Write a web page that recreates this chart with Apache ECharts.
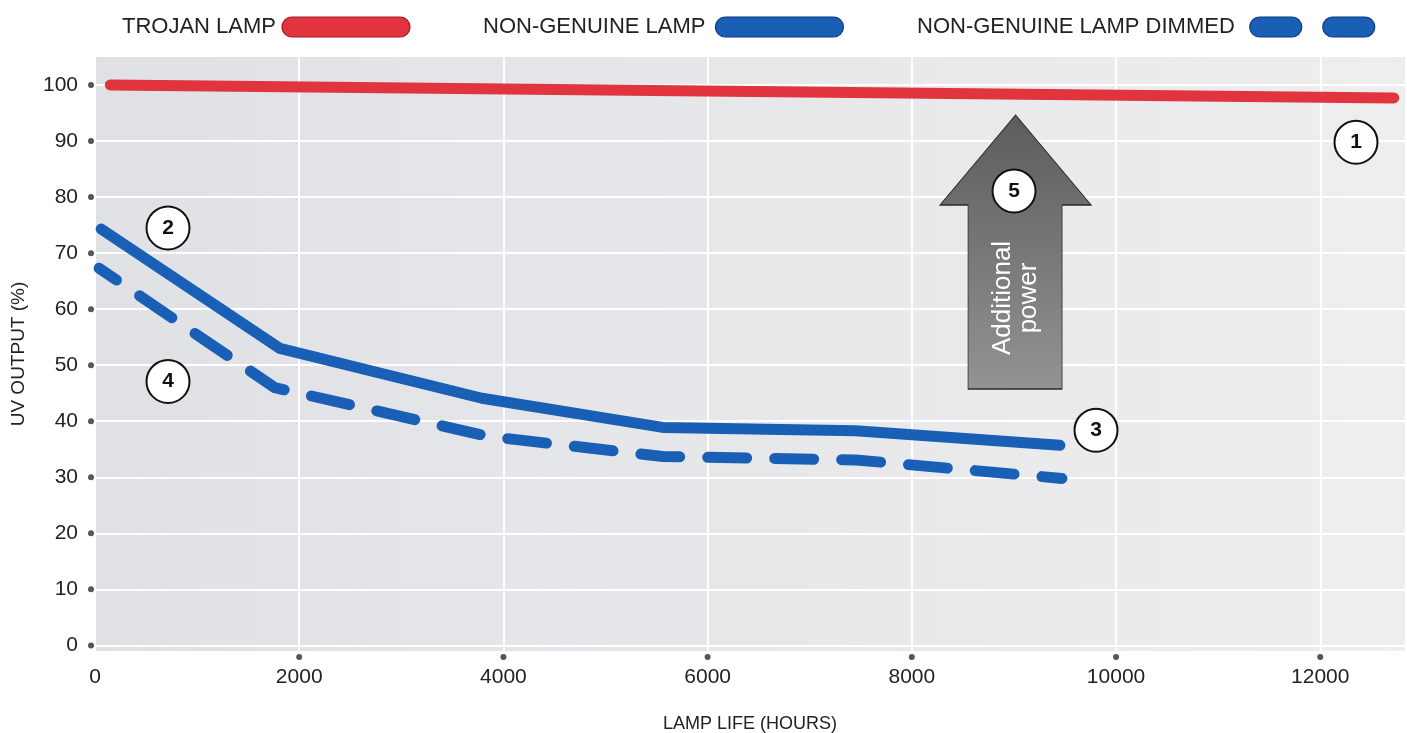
<!DOCTYPE html>
<html><head><meta charset="utf-8">
<script src="https://cdn.jsdelivr.net/npm/echarts@6/dist/echarts.min.js"></script>
<style>html,body{margin:0;padding:0;background:#fff}#c{width:1407px;height:733px}</style>
</head><body><div id="c"></div>
<script>
const xTickLabels = [0, 2000, 4000, 6000, 8000, 10000, 12000];
const yTickLabels = [0, 10, 20, 30, 40, 50, 60, 70, 80, 90, 100];
const seriesNames = ['TROJAN LAMP', 'NON-GENUINE LAMP', 'NON-GENUINE LAMP DIMMED'];
const trojanHours = [150, 12720];
const trojanOutput = [100, 97.7];
const nonGenuineHours = [60, 1810, 3790, 5560, 7450, 9450];
const nonGenuineOutput = [74.3, 53.0, 44.1, 38.9, 38.3, 35.7];
const dimmedHours = [40, 1760, 3850, 5560, 7450, 9470];
const dimmedOutput = [67.3, 46.0, 37.3, 33.7, 33.1, 29.8];
const callouts = [
  {label: '1', x: 12350, y: 89.8},
  {label: '2', x: 715, y: 74.5},
  {label: '3', x: 9804, y: 38.4},
  {label: '4', x: 715, y: 47.1},
  {label: '5', x: 9001, y: 81.1}
];
const arrowNote = {text: 'Additional\npower', x: 9016, y: 70.2, textY: 62.0};

const RED = '#e1343f', BLUE = '#1a5fb6';
const FONT = 'Liberation Sans, Arial, sans-serif';
const pair = (xs, ys) => xs.map((x, i) => [x, ys[i]]);
const pill = 'path://M10,0 H118 A10,10 0 0 1 118,20 H10 A10,10 0 0 1 10,0 Z';
const twoPills = 'path://M10,0 H42 A10,10 0 0 1 42,20 H10 A10,10 0 0 1 10,0 Z M83,0 H115 A10,10 0 0 1 115,20 H83 A10,10 0 0 1 83,0 Z';
const dotStyle = {width: 6, height: 6, borderRadius: 3, backgroundColor: '#555', fontSize: 1, verticalAlign: 'middle'};

function legend(name, left, icon, w, fill, border, pad) {
  return {
    data: [name], left: left, top: 11, align: 'right', icon: icon,
    itemWidth: w, itemHeight: 20, selectedMode: false,
    itemStyle: {color: fill, borderColor: border, borderWidth: 1.2, borderType: 'solid'},
    lineStyle: {width: 0},
    textStyle: {fontFamily: FONT, fontSize: 22, color: '#222', padding: [0, pad, 0, 0]}
  };
}

const chart = echarts.init(document.getElementById('c'), null, {renderer: 'canvas'});
chart.setOption({
  animation: false,
  backgroundColor: '#fff',
  legend: [
    legend(seriesNames[0], 117, pill, 128, RED, '#a51a28', 1),
    legend(seriesNames[1], 478, pill, 128, BLUE, '#0d3b82', 5),
    legend(seriesNames[2], 912, twoPills, 125, BLUE, '#0d3b82', 10)
  ],
  grid: {
    left: 95, top: 57, width: 1310, height: 594, show: true, borderWidth: 0,
    outerBoundsMode: 'none', containLabel: false,
    backgroundColor: {type: 'linear', x: 0, y: 0, x2: 1, y2: 0,
      colorStops: [{offset: 0, color: '#e0e1e5'}, {offset: 1, color: '#eeeeef'}]}
  },
  xAxis: {
    type: 'value', min: 0, max: 12830,
    name: 'LAMP LIFE (HOURS)', nameLocation: 'middle', nameGap: 64, nameMoveOverlap: false,
    nameTextStyle: {fontFamily: FONT, fontSize: 18, color: '#222'},
    axisLine: {show: false},
    axisTick: {show: false, customValues: xTickLabels},
    axisLabel: {
      customValues: xTickLabels, margin: 3, fontFamily: FONT, fontSize: 21, color: '#222',
      formatter: v => (v === 0 ? '{e| }' : '{d| }') + '\n{v|' + v + '}',
      rich: {
        d: Object.assign({}, dotStyle, {lineHeight: 6}),
        e: {fontSize: 1, height: 6, lineHeight: 6},
        v: {fontFamily: FONT, fontSize: 21, color: '#222', lineHeight: 34}
      }
    },
    splitLine: {show: true, lineStyle: {color: '#ffffff', width: 2}}
  },
  yAxis: {
    type: 'value', min: -1, max: 105,
    name: 'UV OUTPUT (%)', nameLocation: 'middle', nameGap: 67, nameRotate: 90, nameMoveOverlap: false,
    nameTextStyle: {fontFamily: FONT, fontSize: 19, color: '#222'},
    axisLine: {show: false},
    axisTick: {show: false, customValues: yTickLabels},
    axisLabel: {
      customValues: yTickLabels, margin: 1, fontFamily: FONT, fontSize: 21, color: '#222',
      formatter: v => '{v|' + v + '}{s| }{d| }',
      rich: {
        v: {fontFamily: FONT, fontSize: 21, color: '#222', verticalAlign: 'middle'},
        s: {width: 10, fontSize: 1},
        d: dotStyle
      }
    },
    splitLine: {show: true, lineStyle: {color: '#ffffff', width: 2}}
  },
  series: [
    {
      name: seriesNames[0], type: 'line', data: pair(trojanHours, trojanOutput),
      showSymbol: false, z: 4, itemStyle: {color: RED},
      lineStyle: {color: RED, width: 11, cap: 'round', join: 'round'}
    },
    {
      name: seriesNames[1], type: 'line', data: pair(nonGenuineHours, nonGenuineOutput),
      showSymbol: false, z: 4, itemStyle: {color: BLUE},
      lineStyle: {color: BLUE, width: 11, cap: 'round', join: 'round'}
    },
    {
      name: seriesNames[2], type: 'line', data: pair(dimmedHours, dimmedOutput),
      showSymbol: false, z: 4, itemStyle: {color: BLUE},
      lineStyle: {color: BLUE, width: 11, cap: 'round', join: 'round', type: [39, 28], dashOffset: 18}
    },
    {
      name: 'arrow', type: 'scatter', data: [], z: 3, silent: true,
      markPoint: {
        silent: true, animation: false,
        data: [
          {coord: [arrowNote.x, arrowNote.y],
           symbol: 'path://M75.5,0 L151,90 L122,90 L122,274 L28,274 L28,90 L0,90 Z',
           symbolSize: [151, 274], symbolKeepAspect: false,
           itemStyle: {color: {type: 'linear', x: 0, y: 0, x2: 0, y2: 1,
             colorStops: [{offset: 0, color: '#5c5c5c'}, {offset: 1, color: '#939393'}]},
             borderColor: '#2a2a2a', borderWidth: 1},
           label: {show: false}},
          {coord: [arrowNote.x, arrowNote.textY], symbol: 'circle', symbolSize: 0,
           label: {show: true, position: 'inside', rotate: 90, formatter: arrowNote.text,
             color: '#ffffff', fontFamily: FONT, fontSize: 26, lineHeight: 26, align: 'center'}}
        ]
      }
    },
    {
      name: 'callouts', type: 'scatter', data: [], z: 6, silent: true,
      markPoint: {
        silent: true, animation: false, symbol: 'circle', symbolSize: 43,
        itemStyle: {color: '#ffffff', borderColor: '#111', borderWidth: 2},
        label: {show: true, position: 'inside', color: '#111', fontFamily: FONT, fontSize: 21, fontWeight: 'bold'},
        data: callouts.map(c => ({coord: [c.x, c.y], value: c.label, label: {formatter: c.label}}))
      }
    }
  ]
});
</script>
</body></html>
